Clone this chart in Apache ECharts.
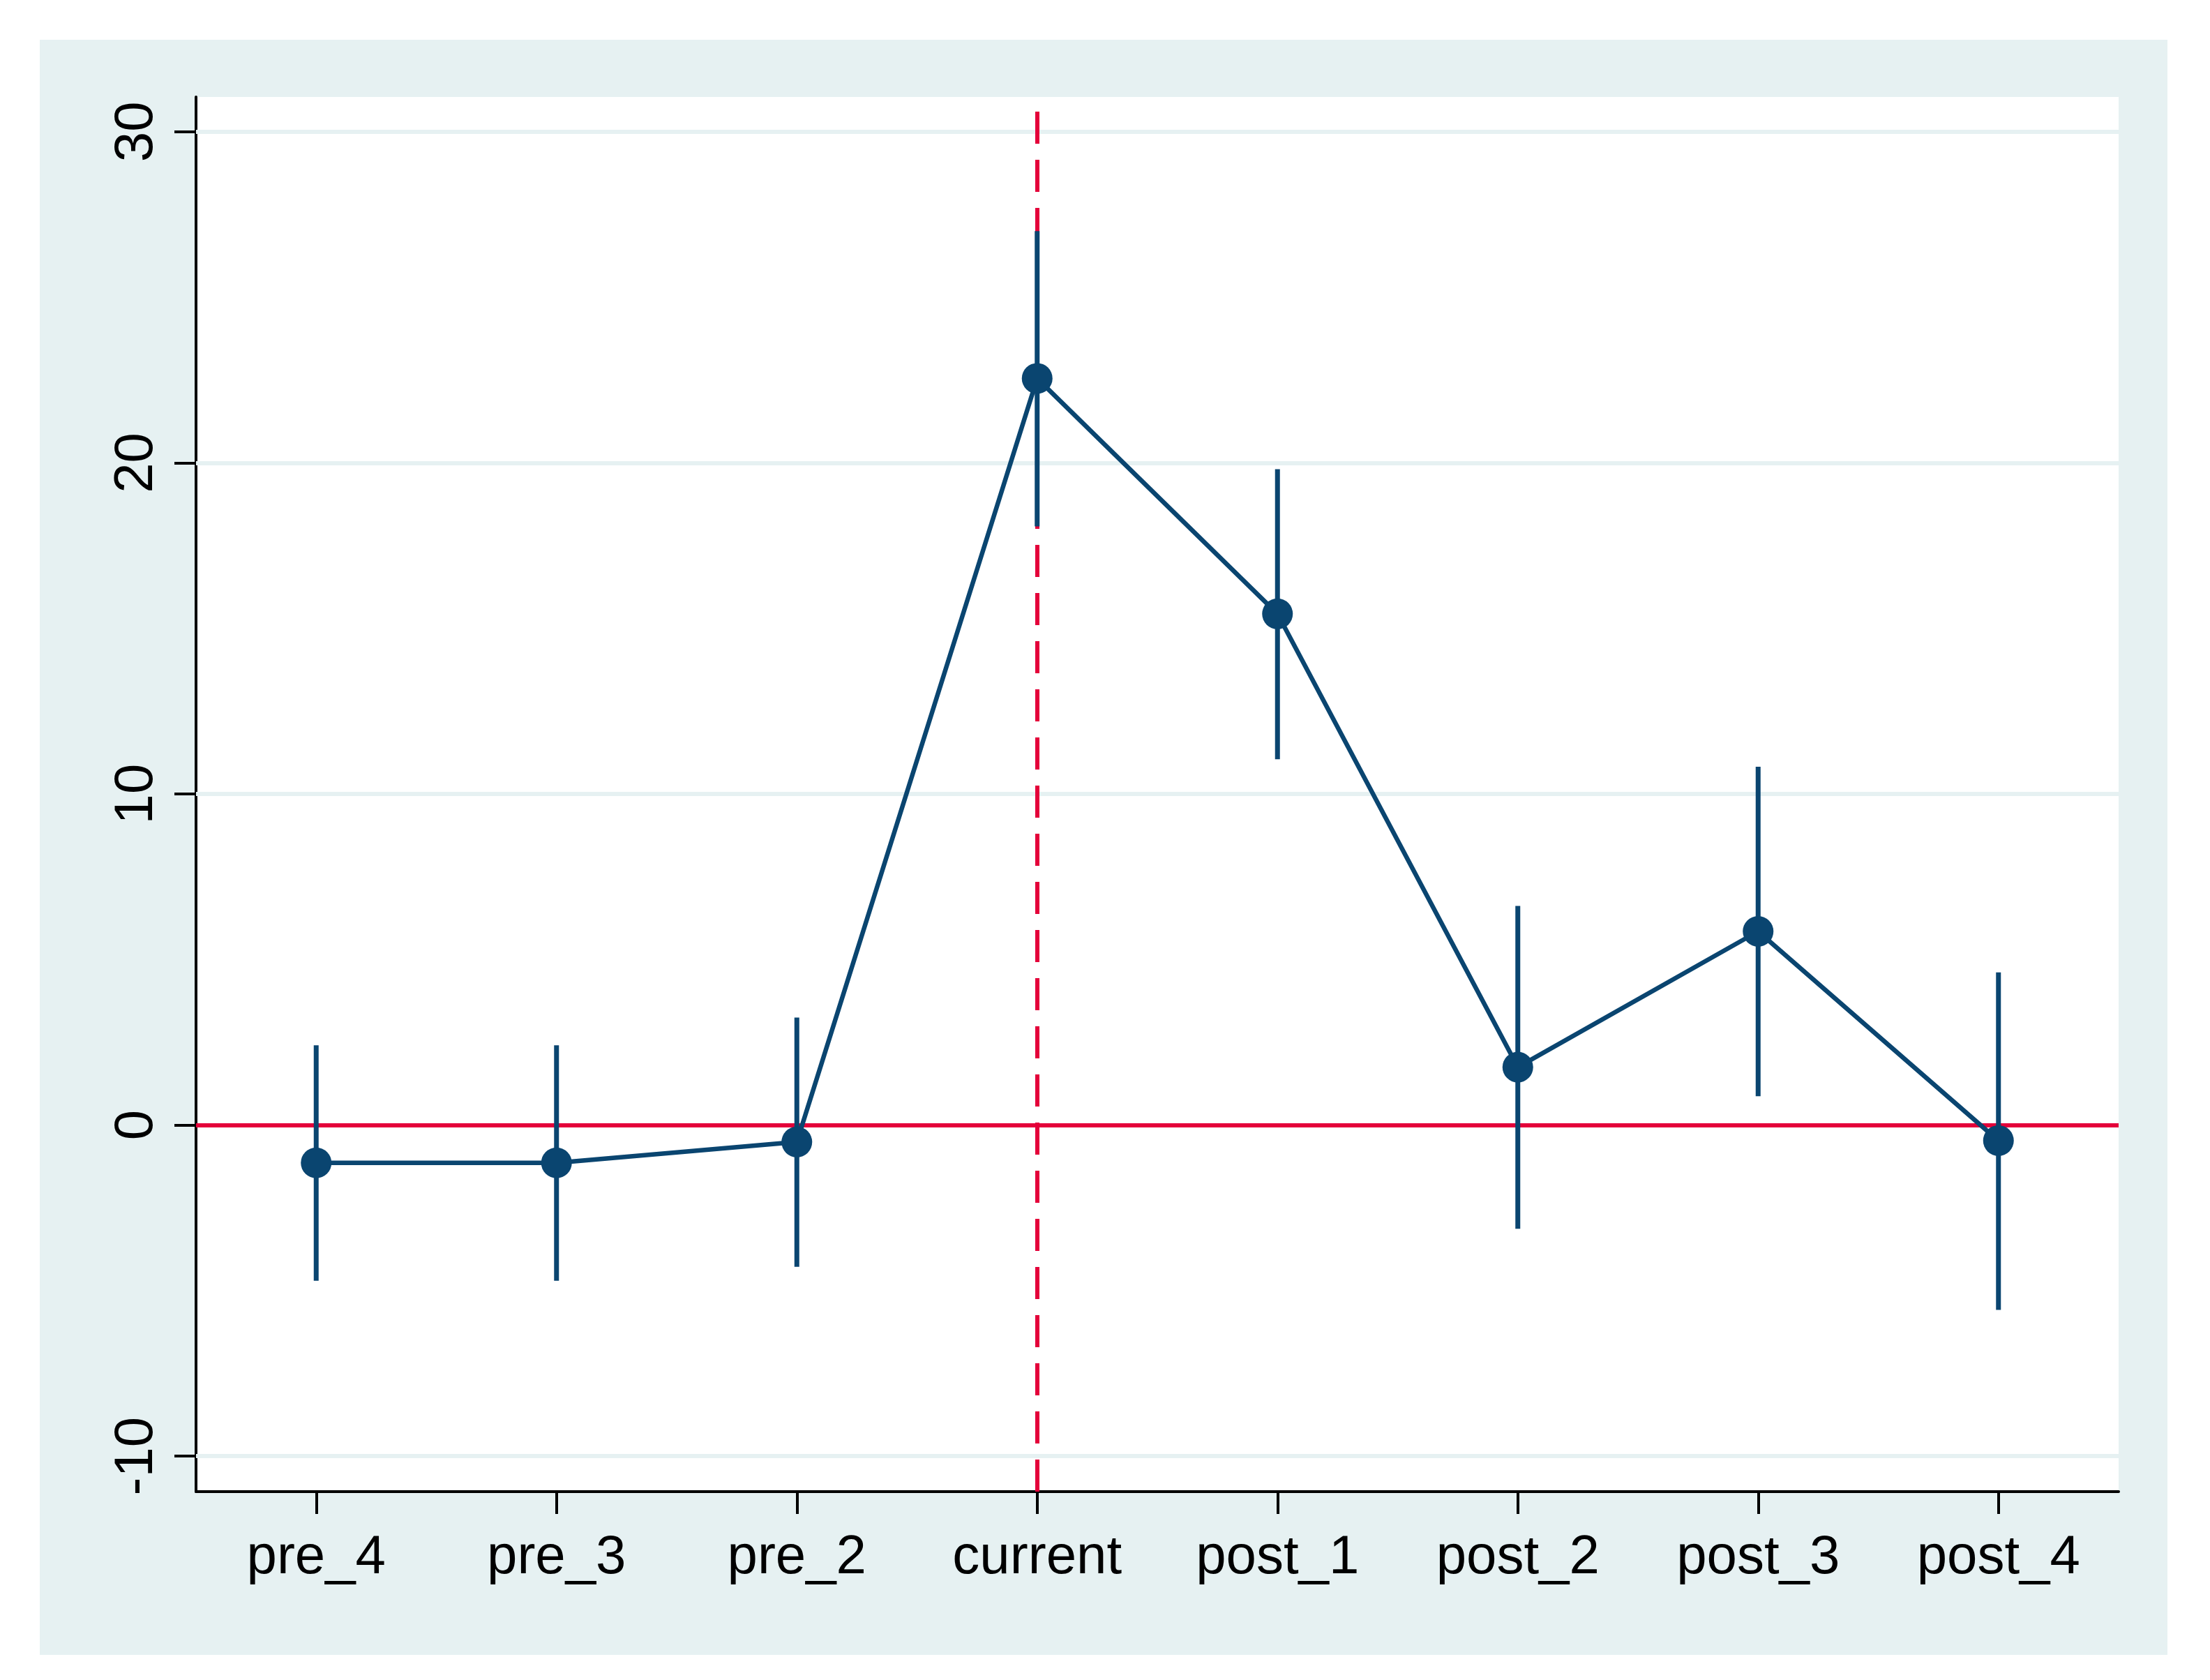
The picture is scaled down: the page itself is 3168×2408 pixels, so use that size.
<!DOCTYPE html>
<html>
<head>
<meta charset="utf-8">
<script src="https://cdn.jsdelivr.net/npm/echarts@6/dist/echarts.min.js"></script>
<style>
  html, body { margin: 0; padding: 0; background: #ffffff; }
  #chart { position: absolute; left: 57px; top: 57px; width: 3050px; height: 2315px; }
</style>
</head>
<body>
<div id="chart"></div>
<script>
// ---- data ----
const categories = ['pre_4', 'pre_3', 'pre_2', 'current', 'post_1', 'post_2', 'post_3', 'post_4'];
const coef  = [-1.14, -1.14, -0.51, 22.55, 15.44, 1.75, 5.85, -0.47];
const lower = [-4.70, -4.70, -4.28, 18.08, 11.05, -3.13, 0.87, -5.58];
const upper = [2.41, 2.41, 3.25, 27.00, 19.81, 6.62, 10.82, 4.61];
const yTicks = [-10, 0, 10, 20, 30];
const eventCategory = 'current';
const refValue = 0;

const NAVY = '#0a4570';
const RED = '#e4003a';
const BG = '#e6f1f2';
const FONT = 'Liberation Sans, Arial, Helvetica, sans-serif';

const chart = echarts.init(document.getElementById('chart'), null, { renderer: 'canvas' });

const ciData = categories.map((c, i) => [i, lower[i], upper[i]]);

const option = {
  backgroundColor: BG,
  animation: false,
  grid: {
    left: 224, top: 82, right: 70, bottom: 234,
    show: true, backgroundColor: '#ffffff', borderWidth: 0
  },
  xAxis: {
    type: 'category',
    data: categories,
    boundaryGap: true,
    axisLine: { show: true, onZero: false, lineStyle: { color: '#000', width: 4 } },
    axisTick: { show: true, alignWithLabel: true, length: 32, lineStyle: { color: '#000', width: 4 } },
    axisLabel: { color: '#000', fontSize: 78, fontFamily: FONT, margin: 56 },
    splitLine: { show: false }
  },
  yAxis: {
    type: 'value',
    min: -11.07,
    max: 31.05,
    axisLine: { show: true, lineStyle: { color: '#000', width: 4 } },
    axisTick: { show: true, length: 31, customValues: yTicks, lineStyle: { color: '#000', width: 4 } },
    axisLabel: { color: '#000', fontSize: 78, fontFamily: FONT, rotate: 90, margin: 46, customValues: yTicks },
    splitLine: { show: false }
  },
  series: [
    {
      // gridlines
      type: 'line',
      data: [],
      silent: true,
      z: 1,
      markLine: {
        z: 1,
        silent: true,
        symbol: ['none', 'none'],
        label: { show: false },
        lineStyle: { color: BG, width: 6, type: 'solid' },
        data: yTicks.map(v => ({ yAxis: v }))
      }
    },
    {
      // reference lines
      type: 'line',
      data: [],
      silent: true,
      z: 2,
      markLine: {
        z: 2,
        silent: true,
        symbol: ['none', 'none'],
        label: { show: false },
        data: [
          { yAxis: refValue, lineStyle: { color: RED, width: 6, type: 'solid' } },
          { xAxis: eventCategory, lineStyle: { color: RED, width: 6, type: [46, 23] } }
        ]
      }
    },
    {
      // confidence intervals
      type: 'custom',
      z: 3,
      data: ciData,
      renderItem: function (params, api) {
        const x = api.value(0);
        const p1 = api.coord([x, api.value(1)]);
        const p2 = api.coord([x, api.value(2)]);
        return {
          type: 'line',
          shape: { x1: p1[0], y1: p1[1], x2: p2[0], y2: p2[1] },
          style: { stroke: NAVY, lineWidth: 7 }
        };
      }
    },
    {
      type: 'line',
      z: 4,
      data: coef,
      symbol: 'circle',
      symbolSize: 44,
      showAllSymbol: true,
      lineStyle: { color: NAVY, width: 6.5 },
      itemStyle: { color: NAVY }
    }
  ]
};
chart.setOption(option);
</script>
</body>
</html>
